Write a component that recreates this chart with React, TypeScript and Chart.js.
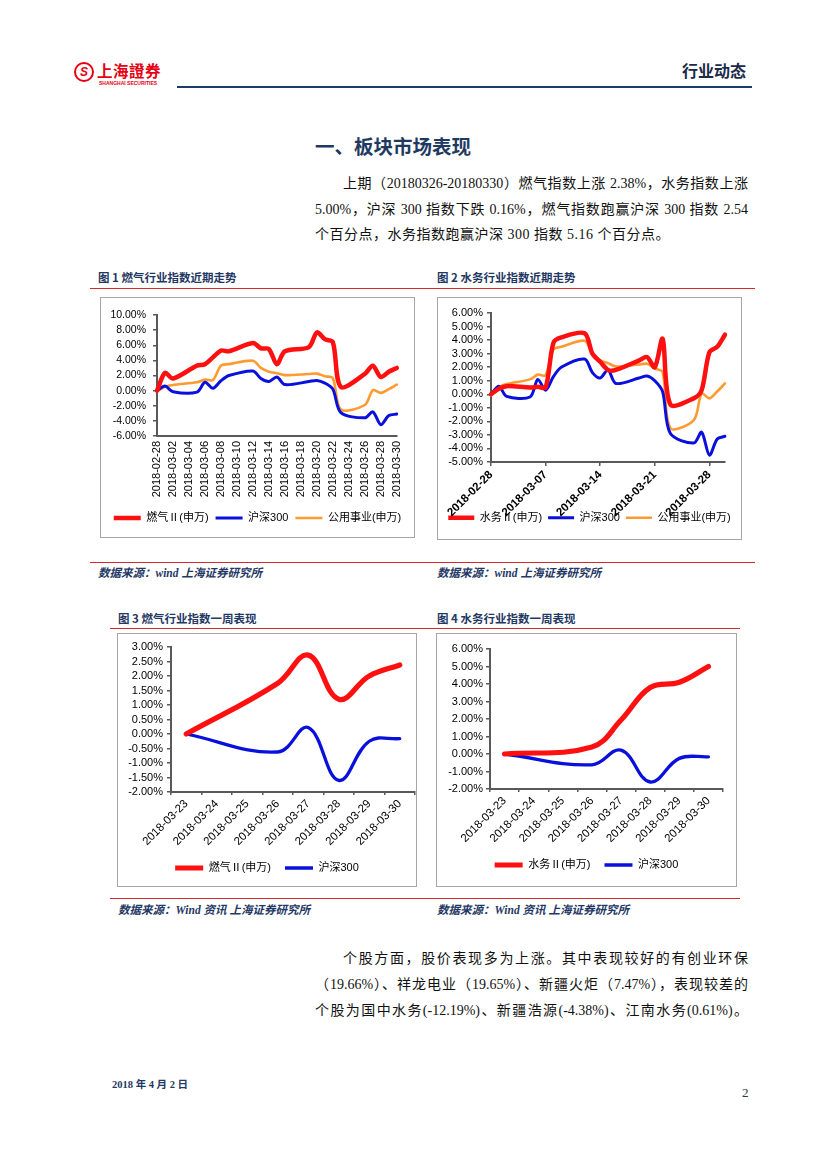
import React, { useEffect, useRef } from 'react';
import { Chart, registerables } from 'chart.js';

Chart.register(...registerables);

// ---------- data ----------
const monthDates = [
  '2018-02-28', '2018-03-01', '2018-03-02', '2018-03-03', '2018-03-04', '2018-03-05', '2018-03-06',
  '2018-03-07', '2018-03-08', '2018-03-09', '2018-03-10', '2018-03-11', '2018-03-12', '2018-03-13',
  '2018-03-14', '2018-03-15', '2018-03-16', '2018-03-17', '2018-03-18', '2018-03-19', '2018-03-20',
  '2018-03-21', '2018-03-22', '2018-03-23', '2018-03-24', '2018-03-25', '2018-03-26', '2018-03-27',
  '2018-03-28', '2018-03-29', '2018-03-30',
];
const fig1TickLabels = [
  '2018-02-28', '2018-03-02', '2018-03-04', '2018-03-06', '2018-03-08', '2018-03-10', '2018-03-12',
  '2018-03-14', '2018-03-16', '2018-03-18', '2018-03-20', '2018-03-22', '2018-03-24', '2018-03-26',
  '2018-03-28', '2018-03-30',
];
const fig2TickLabels = ['2018-02-28', '2018-03-07', '2018-03-14', '2018-03-21', '2018-03-28'];

// 燃气Ⅱ(申万) cumulative %, weekends null
const gasMonth = [0, 2.35, 1.6, null, null, 3.3, 3.5, 4.4, 5.3, 5.2, null, null, 6.3, 5.6, 5.5, 3.5, 5.2, null, null, 5.75, 7.7, 6.8, 6.4, 0.5, null, null, 2.2, 3.3, 1.8, 2.5, 3.0];
// 水务Ⅱ(申万)
const waterMonth = [0, 0.4, 0.6, null, null, 0.5, 0.55, 0.5, 3.8, 4.2, null, null, 4.5, 3.0, 2.4, 1.8, 1.8, null, null, 2.5, 2.75, 2.0, 4.1, -0.75, null, null, -0.3, 0.3, 3.1, 3.5, 4.4];
// 沪深300
const hs300Month = [0, 0.6, -0.15, null, null, -0.2, 1.1, 0.3, 1.3, 2.0, null, null, 2.6, 1.6, 1.2, 1.8, 0.8, null, null, 1.2, 1.35, 1.0, 0.2, -2.9, null, null, -3.6, -2.8, -4.5, -3.3, -3.1];
// 公用事业(申万)
const utilMonth = [-0.1, 0.5, 0.75, null, null, 1.1, 1.45, 1.4, 3.3, 3.5, null, null, 3.95, 3.0, 2.5, 2.3, 2.05, null, null, 2.2, 2.25, 1.9, 1.65, -2.5, null, null, -1.9, 0.05, -0.3, 0.2, 0.8];

const weekDates = ['2018-03-23', '2018-03-24', '2018-03-25', '2018-03-26', '2018-03-27', '2018-03-28', '2018-03-29', '2018-03-30'];
const gasWeek = [0, null, null, 1.75, 2.72, 1.2, 2.0, 2.38];
const waterWeek = [0, null, null, 0.4, 1.94, 3.8, 4.1, 5.0];
const hs300Week = [0, null, null, -0.62, 0.22, -1.6, -0.25, -0.16];

// ---------- styles ----------
const FONT_SANS = "'Liberation Sans', Arial, 'Noto Sans CJK SC', sans-serif";
const FONT_BODY = "'Liberation Serif', 'Times New Roman', 'Noto Sans CJK SC', serif";
const FONT_HEAD = "'Noto Sans CJK SC', sans-serif";
const NAVY = '#1f3864';
const RED = '#ff1010';
const BLUE = '#0a10dc';
const ORANGE = '#ff9a30';
const AXIS = '#595959';

function buildConfig(s: any) {
  const shown = new Set(s.tickLabels);
  const isWeek = s.xMode === 'week';
  const rot = s.xMode === 'v90' ? 90 : 45;
  return {
    type: 'line',
    data: {
      labels: s.labels,
      datasets: s.series.map((d: any) => ({
        label: d.label,
        data: d.data,
        borderColor: d.color,
        backgroundColor: d.color,
        pointBorderColor: d.color,
        pointBackgroundColor: d.color,
        borderWidth: d.width,
        pointBorderWidth: d.width,
        pointRadius: 0,
        pointHoverRadius: 0,
        pointHitRadius: 0,
        tension: s.tension,
        spanGaps: true,
        fill: false,
        borderCapStyle: 'round',
        borderJoinStyle: 'round',
        yAxisID: 'y',
      })),
    },
    options: {
      animation: false,
      responsive: false,
      maintainAspectRatio: false,
      events: [],
      layout: { padding: { top: s.padTop, right: 0, bottom: s.padBottom, left: 0 } },
      plugins: {
        legend: {
          position: 'bottom',
          labels: {
            usePointStyle: true,
            pointStyle: 'line',
            pointStyleWidth: s.legendLine,
            padding: s.legendPadding,
            color: '#000',
            font: { family: FONT_SANS, size: 11 },
          },
        },
        tooltip: { enabled: false },
      },
      scales: {
        x: {
          type: 'category',
          offset: isWeek,
          grid: {
            display: true,
            drawOnChartArea: false,
            drawTicks: s.xMode !== 'v90',
            tickLength: isWeek ? 3 : 4,
            offset: isWeek,
            color: AXIS,
            tickColor: (ctx: any) => (isWeek || shown.has(s.labels[ctx.index]) ? AXIS : 'rgba(0,0,0,0)'),
            lineWidth: 1.5,
          },
          border: { display: true, color: AXIS, width: 2 },
          ticks: {
            autoSkip: false,
            maxRotation: rot,
            minRotation: rot,
            padding: s.xPad,
            color: '#000',
            font: { family: FONT_SANS, size: s.xFont, weight: s.xBold ? 'bold' : 'normal' },
            callback: (_v: any, i: number) => (shown.has(s.labels[i]) ? s.labels[i] : ''),
          },
          afterFit: (sc: any) => {
            const lh = sc.chart.legend ? sc.chart.legend.height : 0;
            sc.height = Math.max(0, sc.chart.height - s.padBottom - lh - s.plotBottom);
            // let rotated labels run over the legend band, as in the original
            sc._computeLabelArea = () => undefined;
          },
        },
        y: {
          type: 'linear',
          position: 'left',
          min: s.yMin,
          max: s.yMax,
          grid: { drawOnChartArea: false, drawTicks: true, tickLength: 4, color: AXIS, lineWidth: 1.5 },
          border: { display: true, color: AXIS, width: 2 },
          ticks: {
            autoSkip: false,
            stepSize: s.yStep,
            padding: s.yPad,
            color: '#000',
            font: { family: FONT_SANS, size: s.yFont },
            callback: (v: any) => Number(v).toFixed(2) + '%',
          },
          afterFit: (sc: any) => {
            sc.width = s.yWidth;
          },
        },
        spacer: {
          type: 'linear',
          position: 'right',
          display: true,
          grid: { display: false, drawTicks: false },
          border: { display: false },
          ticks: { display: false },
          afterFit: (sc: any) => {
            sc.width = s.padRight;
          },
        },
      },
    },
  };
}

function ChartBox({ left, top, width, height, spec }: any) {
  const ref = useRef<HTMLCanvasElement>(null);
  useEffect(() => {
    const chart = new Chart(ref.current as HTMLCanvasElement, buildConfig(spec) as any);
    return () => chart.destroy();
  }, []);
  return (
    <>
      <div style={{ position: 'absolute', left, top, width, height, border: '1px solid #a6a6a6', boxSizing: 'border-box' }} />
      <canvas ref={ref} width={width} height={height} style={{ position: 'absolute', left, top, width, height }} />
    </>
  );
}

function Txt({ x, y, size, children, color = '#111', weight = 400, family = FONT_BODY, italic = false, w, justify = false, ls }: any) {
  const lh = Math.round(size * 1.5);
  return (
    <div
      style={{
        position: 'absolute',
        left: x,
        top: y - lh / 2,
        width: w,
        height: lh,
        lineHeight: lh + 'px',
        fontSize: size,
        color,
        fontWeight: weight,
        fontFamily: family,
        fontStyle: italic ? 'italic' : 'normal',
        whiteSpace: w ? 'normal' : 'nowrap',
        textAlign: justify ? 'justify' : 'left',
        textAlignLast: justify ? 'justify' : 'auto',
        letterSpacing: ls,
      } as any}
    >
      {children}
    </div>
  );
}

const Rule = ({ x, y, w, color = '#d42a2a', h = 1 }: any) => (
  <div style={{ position: 'absolute', left: x, top: y, width: w, height: h, background: color }} />
);

const spec1 = {
  labels: monthDates,
  tickLabels: fig1TickLabels,
  series: [
    { label: '燃气Ⅱ(申万)', data: gasMonth, color: RED, width: 4.5 },
    { label: '沪深300', data: hs300Month, color: BLUE, width: 3 },
    { label: '公用事业(申万)', data: utilMonth, color: ORANGE, width: 2.6 },
  ],
  yMin: -6, yMax: 10, yStep: 2,
  yWidth: 57, padTop: 18, padRight: 12, padBottom: 4.5, plotBottom: 139,
  xMode: 'v90', xPad: 5, xFont: 11, xBold: false, yFont: 10.5, yPad: 7,
  legendLine: 27, legendPadding: 7, tension: 0.3,
};
const spec2 = {
  labels: monthDates,
  tickLabels: fig2TickLabels,
  series: [
    { label: '水务Ⅱ(申万)', data: waterMonth, color: RED, width: 4.5 },
    { label: '沪深300', data: hs300Month, color: BLUE, width: 3 },
    { label: '公用事业(申万)', data: utilMonth, color: ORANGE, width: 2.6 },
  ],
  yMin: -5, yMax: 6, yStep: 1,
  yWidth: 54, padTop: 16, padRight: 17, padBottom: 6.8, plotBottom: 165,
  xMode: 'd45', xPad: 2, xFont: 11.5, xBold: true, yFont: 11, yPad: 4,
  legendLine: 26, legendPadding: 6, tension: 0.3,
};
const spec3 = {
  labels: weekDates,
  tickLabels: weekDates,
  series: [
    { label: '燃气Ⅱ(申万)', data: gasWeek, color: RED, width: 5.2 },
    { label: '沪深300', data: hs300Week, color: BLUE, width: 3.3 },
  ],
  yMin: -2, yMax: 3, yStep: 0.5,
  yWidth: 54, padTop: 14, padRight: 2, padBottom: 3.5, plotBottom: 159,
  xMode: 'week', xPad: 2, xFont: 11.5, xBold: false, yFont: 11, yPad: 4,
  legendLine: 28, legendPadding: 14, tension: 0.4,
};
const spec4 = {
  labels: weekDates,
  tickLabels: weekDates,
  series: [
    { label: '水务Ⅱ(申万)', data: waterWeek, color: RED, width: 5.2 },
    { label: '沪深300', data: hs300Week, color: BLUE, width: 3.3 },
  ],
  yMin: -2, yMax: 6, yStep: 1,
  yWidth: 54, padTop: 16, padRight: 14, padBottom: 6.5, plotBottom: 156,
  xMode: 'week', xPad: 2, xFont: 11.5, xBold: false, yFont: 11, yPad: 3,
  legendLine: 28, legendPadding: 14, tension: 0.4,
};

export default function App() {
  return (
    <div style={{ position: 'absolute', left: 0, top: 0, width: 827, height: 1169, background: '#fff', overflow: 'hidden' }}>
      {/* header logo */}
      <div
        style={{
          position: 'absolute', left: 74, top: 62, width: 20, height: 20, borderRadius: '50%',
          border: '2px solid #e60012', boxSizing: 'border-box', color: '#e60012', fontSize: 12,
          fontWeight: 700, fontStyle: 'italic', textAlign: 'center', lineHeight: '16px', fontFamily: FONT_SANS,
        }}
      >
        S
      </div>
      <Txt x={97} y={70} size={15.5} color="#e60012" weight={700} family="'Noto Sans CJK TC', 'Noto Sans CJK SC', sans-serif" ls={0.5}>上海證券</Txt>
      <div style={{ position: 'absolute', left: 99, top: 80, fontSize: 5, lineHeight: '6px', color: '#e60012', fontFamily: FONT_SANS, fontWeight: 700, whiteSpace: 'nowrap' }}>
        SHANGHAI SECURITIES
      </div>
      <Txt x={682} y={70} size={16} color="#1a2a48" weight={700} family={FONT_HEAD}>行业动态</Txt>
      <Rule x={177} y={86} w={575} h={2} color="#1f3c66" />

      {/* section title and paragraph */}
      <Txt x={315} y={145} size={19.5} color="#1f3a60" weight={700} family={FONT_HEAD}>一、板块市场表现</Txt>
      <Txt x={343} y={183} size={14} w={405} justify>上期（20180326-20180330）燃气指数上涨 2.38%，水务指数上涨</Txt>
      <Txt x={315} y={209} size={14} w={433} justify>5.00%，沪深 300 指数下跌 0.16%，燃气指数跑赢沪深 300 指数 2.54</Txt>
      <Txt x={315} y={234} size={14} ls={0.5}>个百分点，水务指数跑赢沪深 300 指数 5.16 个百分点。</Txt>

      {/* figure captions row 1 */}
      <Txt x={98} y={277} size={11.5} color={NAVY} weight={700} family={FONT_HEAD}>图 1 燃气行业指数近期走势</Txt>
      <Txt x={437} y={277} size={11.5} color={NAVY} weight={700} family={FONT_HEAD}>图 2 水务行业指数近期走势</Txt>
      <Rule x={90} y={288} w={665} />

      <ChartBox left={100} top={297} width={315} height={241} spec={spec1} />
      <ChartBox left={437} top={297} width={305} height={243} spec={spec2} />

      <Rule x={90} y={562} w={665} />
      <Txt x={98} y={573} size={11.5} color={NAVY} weight={700} italic family={FONT_BODY}>数据来源：wind 上海证券研究所</Txt>
      <Txt x={437} y={573} size={11.5} color={NAVY} weight={700} italic family={FONT_BODY}>数据来源：wind 上海证券研究所</Txt>

      {/* figure captions row 2 */}
      <Txt x={118} y={618} size={11.5} color={NAVY} weight={700} family={FONT_HEAD}>图 3 燃气行业指数一周表现</Txt>
      <Txt x={437} y={618} size={11.5} color={NAVY} weight={700} family={FONT_HEAD}>图 4 水务行业指数一周表现</Txt>
      <Rule x={110} y={628} w={630} />

      <ChartBox left={117} top={633} width={300} height={254} spec={spec3} />
      <ChartBox left={436} top={633} width={301} height={254} spec={spec4} />

      <Rule x={110} y={898} w={630} />
      <Txt x={118} y={910} size={11.5} color={NAVY} weight={700} italic family={FONT_BODY}>数据来源：Wind 资讯 上海证券研究所</Txt>
      <Txt x={437} y={910} size={11.5} color={NAVY} weight={700} italic family={FONT_BODY}>数据来源：Wind 资讯 上海证券研究所</Txt>

      {/* second paragraph */}
      <Txt x={343} y={958} size={14} w={405} justify>个股方面，股价表现多为上涨。其中表现较好的有创业环保</Txt>
      <Txt x={315} y={984} size={14} w={433} justify>（19.66%）、祥龙电业（19.65%）、新疆火炬（7.47%），表现较差的</Txt>
      <Txt x={315} y={1010} size={14} w={433} justify>个股为国中水务(-12.19%)、新疆浩源(-4.38%)、江南水务(0.61%)。</Txt>

      {/* footer */}
      <Txt x={112} y={1085} size={10.5} color={NAVY} weight={700} family={FONT_BODY}>2018 年 4 月 2 日</Txt>
      <Txt x={742} y={1093} size={13} color="#333" family={FONT_BODY}>2</Txt>
    </div>
  );
}
